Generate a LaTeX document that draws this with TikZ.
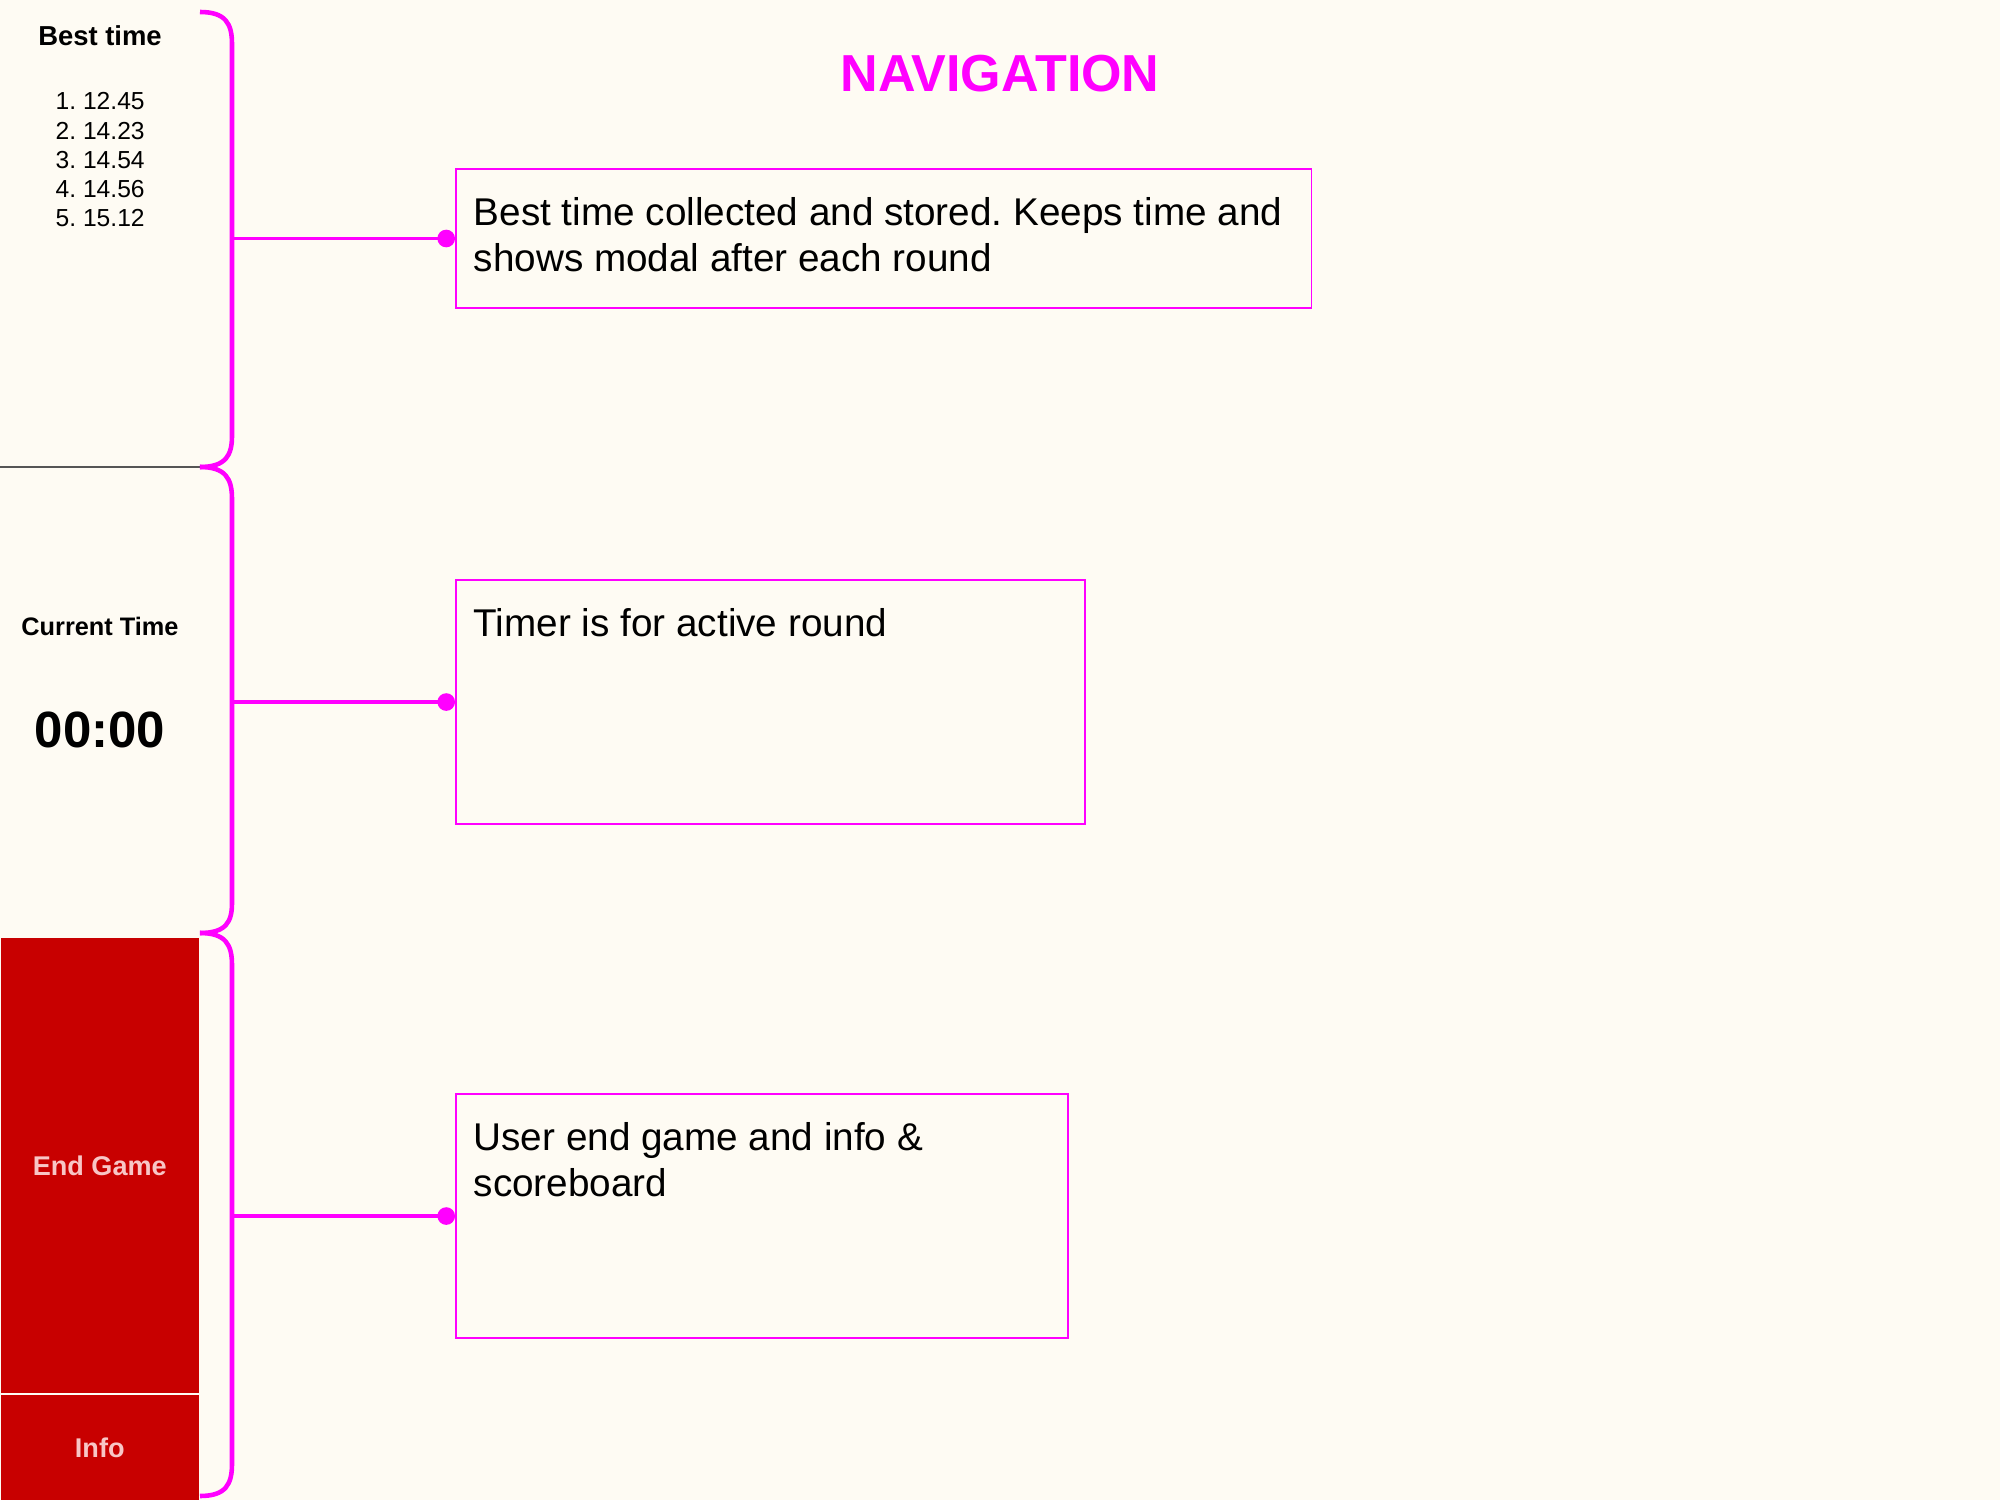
\documentclass[tikz,border=0pt]{standalone}
\usepackage{fontspec}
\setmainfont{Liberation Sans}
\usetikzlibrary{arrows.meta}
\frenchspacing

\definecolor{paper}{HTML}{FEFBF3}
\definecolor{navpink}{HTML}{FF00FF}
\definecolor{btnred}{HTML}{C80000}
\definecolor{btntext}{HTML}{F8C6C6}
\definecolor{rulegray}{HTML}{555555}

\tikzset{
  brace/.style={navpink, line width=1.3pt},
  link/.style={navpink, line width=1.1pt, -{Circle[length=5pt]}},
  notebox/.style={draw=navpink, line width=0.55pt, anchor=north west, inner sep=0pt},
  notetext/.style={anchor=north west, align=left, inner xsep=0.18cm, inner ysep=0.285cm,
    font=\fontsize{11}{13.1}\selectfont},
  paneltitle/.style={font=\bfseries\fontsize{7.5}{9}\selectfont},
  button/.style={fill=btnred, text=btntext, anchor=north west, inner sep=0pt,
    minimum width=1.98cm, font=\bfseries\fontsize{7.7}{9}\selectfont}
}

\begin{document}
\begin{tikzpicture}[x=0.01cm, y=-0.01cm]
% page
\fill[paper] (0,0) rectangle (2000,1500);
\useasboundingbox (0,0) rectangle (2000,1500);

% title
\node[text=navpink, font=\bfseries\fontsize{14.8}{17}\selectfont] (navtitle) at (1000,74) {NAVIGATION};

% left panel: best time
\node[paneltitle, font=\bfseries\fontsize{7.8}{9}\selectfont] (besttitle) at (100,36) {Best time};
\node[anchor=north west, align=left, inner sep=0pt, font=\fontsize{7}{8.3}\selectfont]
  (bestlist) at (55,92) {1. 12.45\\2. 14.23\\3. 14.54\\4. 14.56\\5. 15.12};
\draw[rulegray, line width=0.3pt] (0,467) -- (200,467);

% left panel: current time
\node[paneltitle, font=\bfseries\fontsize{7.2}{9}\selectfont] (curtitle) at (100,626) {Current Time};
\node[font=\bfseries\fontsize{14.5}{17}\selectfont] (clock) at (100,730) {00:00};

% left panel: buttons
\node[button, minimum height=4.55cm] (endgame) at (0,937) {End Game};
\node[button, minimum height=1.06cm] (info) at (0,1394) {Info};

% braces
\draw[brace] (200,12) .. controls (226,12) and (232,24) .. (232,44) -- (232,436)
  .. controls (232,455) and (226,467) .. (200,467);
\draw[brace] (200,467) .. controls (226,467) and (232,479) .. (232,499) -- (232,903)
  .. controls (232,922) and (226,933) .. (200,933);
\draw[brace] (200,933) .. controls (226,933) and (232,945) .. (232,965) -- (232,1464)
  .. controls (232,1484) and (226,1496) .. (200,1496);
\coordinate (bracex) at (232,0);

% notes
\node[notebox, minimum width=8.55cm, minimum height=1.39cm] (bestnote) at (455,168) {};
\node[notetext] (besttext) at (bestnote.north west)
  {Best time collected and stored. Keeps time and\\shows modal after each round};

\node[notebox, minimum width=6.29cm, minimum height=2.44cm] (timernote) at (455,579) {};
\node[notetext] (timertext) at (timernote.north west) {Timer is for active round};

\node[notebox, minimum width=6.12cm, minimum height=2.44cm] (endnote) at (455,1093) {};
\node[notetext] (endtext) at (endnote.north west) {User end game and info \&\\scoreboard};

% connectors
\draw[link] (bestnote.west -| bracex) -- (bestnote.west);
\draw[link] (timernote.west -| bracex) -- (timernote.west);
\draw[link] (endnote.west -| bracex) -- (endnote.west);

\end{tikzpicture}
\end{document}
